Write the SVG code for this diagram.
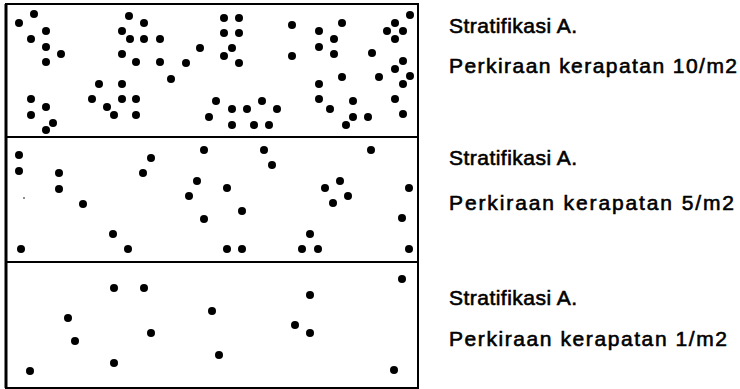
<svg xmlns="http://www.w3.org/2000/svg" width="740" height="389" viewBox="0 0 740 389">
<style>
.frame{fill:none;stroke:#000;stroke-width:2}
.div{stroke:#000;stroke-width:2}
circle{fill:#000}
text{font-family:"Liberation Sans",Arial,sans-serif;font-size:21px;fill:#000;stroke:#000;stroke-width:0.6}
</style>
<rect fill="#fff" width="740" height="389"/>
<g id="frame">
<rect class="frame" x="6" y="4" width="412" height="384"/>
<line class="div" x1="6" y1="137" x2="418" y2="137"/>
<line class="div" x1="6" y1="262" x2="418" y2="262"/>
<line x1="6" y1="4" x2="6" y2="388" stroke="#000" stroke-width="3"/>
</g>
<g id="panel1-dots">
<circle cx="19" cy="23" r="4"/><circle cx="34" cy="14" r="4"/><circle cx="46" cy="31" r="4"/><circle cx="31" cy="39" r="4"/><circle cx="46" cy="47" r="4"/><circle cx="61" cy="54" r="4"/><circle cx="46" cy="62" r="4"/>
<circle cx="129" cy="16" r="4"/><circle cx="144" cy="23" r="4"/><circle cx="122" cy="31" r="4"/><circle cx="130" cy="39" r="4"/><circle cx="144" cy="39" r="4"/><circle cx="160" cy="39" r="4"/><circle cx="122" cy="54" r="4"/><circle cx="136" cy="62" r="4"/><circle cx="160" cy="62" r="4"/><circle cx="186" cy="63" r="4"/><circle cx="200" cy="48" r="4"/><circle cx="171" cy="79" r="4"/>
<circle cx="99" cy="84" r="4"/><circle cx="122" cy="84" r="4"/><circle cx="92" cy="99" r="4"/><circle cx="122" cy="99" r="4"/><circle cx="136" cy="99" r="4"/><circle cx="107" cy="107" r="4"/><circle cx="114" cy="115" r="4"/><circle cx="136" cy="115" r="4"/>
<circle cx="31" cy="99" r="4"/><circle cx="46" cy="107" r="4"/><circle cx="31" cy="115" r="4"/><circle cx="53" cy="123" r="4"/><circle cx="46" cy="130" r="4"/>
<circle cx="209" cy="117" r="4"/><circle cx="216" cy="101" r="4"/><circle cx="232" cy="109" r="4"/><circle cx="247" cy="109" r="4"/><circle cx="262" cy="101" r="4"/><circle cx="277" cy="109" r="4"/><circle cx="232" cy="125" r="4"/><circle cx="254" cy="125" r="4"/><circle cx="269" cy="125" r="4"/>
<circle cx="224" cy="18" r="4"/><circle cx="239" cy="18" r="4"/><circle cx="224" cy="33" r="4"/><circle cx="239" cy="33" r="4"/><circle cx="232" cy="48" r="4"/><circle cx="224" cy="56" r="4"/><circle cx="239" cy="63" r="4"/>
<circle cx="292" cy="25" r="4"/><circle cx="292" cy="56" r="4"/>
<circle cx="319" cy="31" r="4"/><circle cx="342" cy="23" r="4"/><circle cx="334" cy="39" r="4"/><circle cx="319" cy="47" r="4"/><circle cx="334" cy="54" r="4"/>
<circle cx="372" cy="53" r="4"/><circle cx="410" cy="15" r="4"/><circle cx="395" cy="23" r="4"/><circle cx="387" cy="31" r="4"/><circle cx="403" cy="31" r="4"/><circle cx="395" cy="39" r="4"/>
<circle cx="403" cy="61" r="4"/><circle cx="395" cy="69" r="4"/><circle cx="410" cy="76" r="4"/><circle cx="403" cy="84" r="4"/><circle cx="379" cy="77" r="4"/>
<circle cx="342" cy="77" r="4"/><circle cx="319" cy="84" r="4"/><circle cx="319" cy="99" r="4"/><circle cx="330" cy="109" r="4"/><circle cx="353" cy="101" r="4"/><circle cx="353" cy="117" r="4"/><circle cx="368" cy="117" r="4"/><circle cx="346" cy="125" r="4"/>
<circle cx="395" cy="99" r="4"/><circle cx="403" cy="114" r="4"/>
</g>
<g id="panel2-dots">
<circle cx="19" cy="155" r="4"/><circle cx="19" cy="171" r="4"/><circle cx="59" cy="173" r="4"/><circle cx="59" cy="189" r="4"/><circle cx="83" cy="204" r="4"/><circle cx="21" cy="249" r="4"/><circle cx="113" cy="234" r="4"/><circle cx="128" cy="249" r="4"/><circle cx="151" cy="158" r="4"/><circle cx="143" cy="173" r="4"/><circle cx="204" cy="150" r="4"/><circle cx="197" cy="181" r="4"/><circle cx="189" cy="196" r="4"/><circle cx="204" cy="219" r="4"/>
<circle cx="264" cy="150" r="4"/><circle cx="272" cy="165" r="4"/><circle cx="227" cy="188" r="4"/><circle cx="242" cy="211" r="4"/><circle cx="227" cy="249" r="4"/><circle cx="242" cy="249" r="4"/><circle cx="310" cy="234" r="4"/><circle cx="302" cy="249" r="4"/><circle cx="318" cy="249" r="4"/><circle cx="371" cy="150" r="4"/><circle cx="340" cy="181" r="4"/><circle cx="325" cy="188" r="4"/><circle cx="348" cy="196" r="4"/><circle cx="333" cy="203" r="4"/><circle cx="409" cy="188" r="4"/><circle cx="402" cy="218" r="4"/><circle cx="409" cy="249" r="4"/>
<circle cx="24" cy="198" r="0.8"/>
</g>
<g id="panel3-dots">
<circle cx="114" cy="288" r="4"/><circle cx="144" cy="288" r="4"/><circle cx="68" cy="318" r="4"/><circle cx="75" cy="341" r="4"/><circle cx="151" cy="333" r="4"/><circle cx="114" cy="363" r="4"/><circle cx="30" cy="371" r="4"/><circle cx="212" cy="311" r="4"/><circle cx="310" cy="295" r="4"/><circle cx="402" cy="279" r="4"/><circle cx="295" cy="325" r="4"/><circle cx="310" cy="333" r="4"/><circle cx="219" cy="355" r="4"/><circle cx="394" cy="370" r="4"/>
</g>
<g id="labels">
<text x="449" y="33" textLength="128" lengthAdjust="spacing">Stratifikasi A.</text>
<text x="449" y="73" textLength="288" lengthAdjust="spacing">Perkiraan kerapatan 10/m2</text>
<text x="449" y="165" textLength="128" lengthAdjust="spacing">Stratifikasi A.</text>
<text x="449" y="210" textLength="285" lengthAdjust="spacing">Perkiraan kerapatan  5/m2</text>
<text x="449" y="305" textLength="128" lengthAdjust="spacing">Stratifikasi A.</text>
<text x="449" y="346" textLength="278" lengthAdjust="spacing">Perkiraan kerapatan 1/m2</text>
</g>
</svg>
